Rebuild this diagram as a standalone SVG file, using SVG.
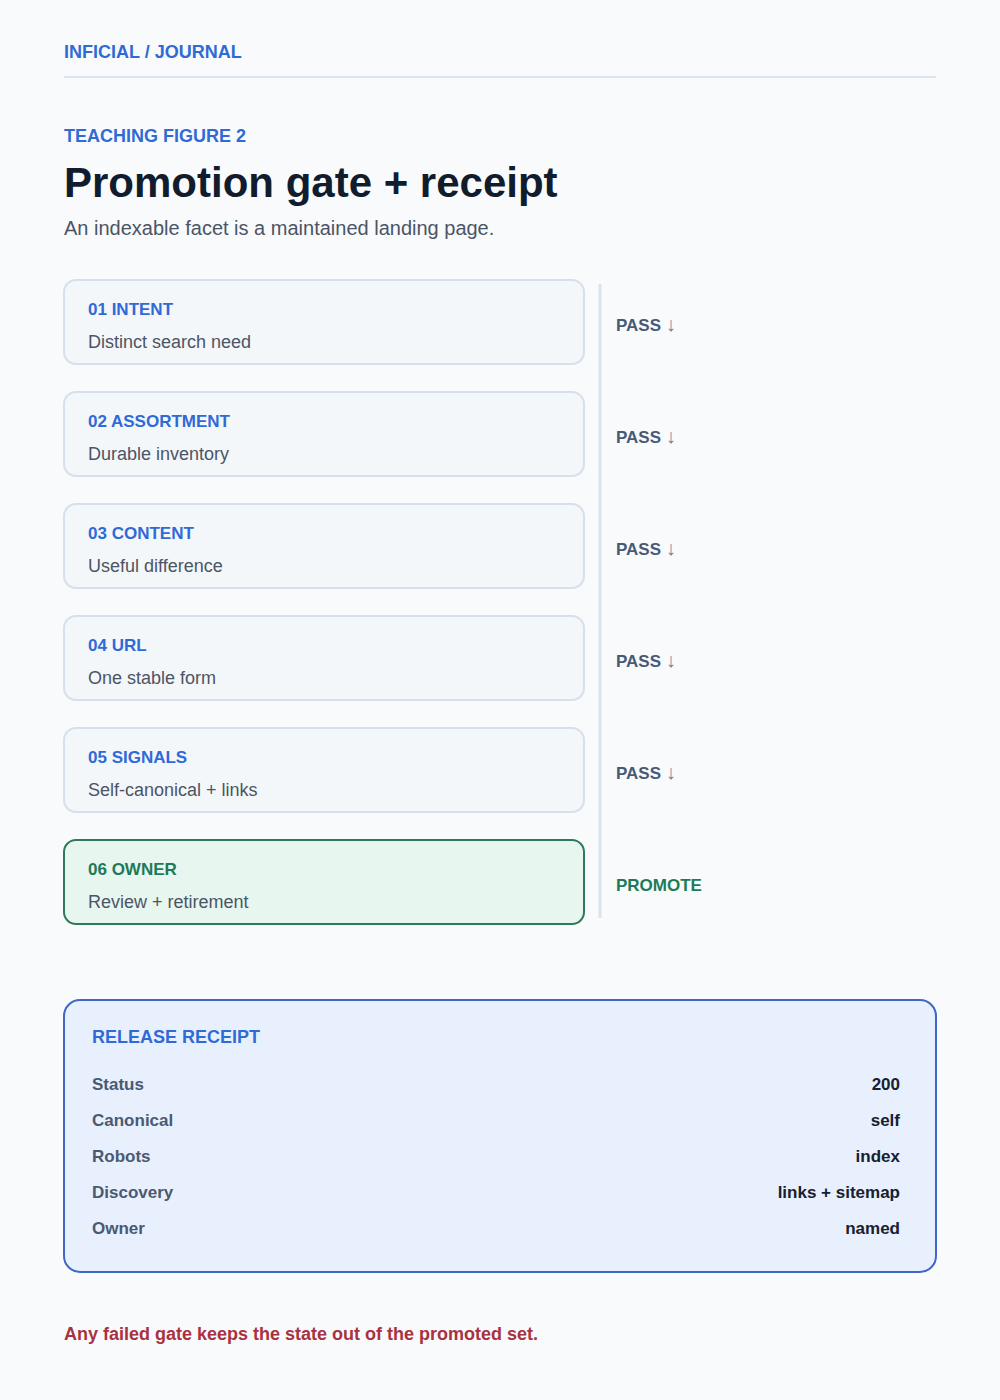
<svg xmlns="http://www.w3.org/2000/svg" width="1000" height="1400" viewBox="0 0 1000 1400">
<style>
text{font-family:"Liberation Sans",Arial,sans-serif}
.kick{font-size:18px;font-weight:700;fill:#2f6ad6}
.gate{fill:#f4f7fa;stroke:#d6e0ea;stroke-width:2}
.gate-ok{fill:#e8f6f0;stroke:#2e7a5a;stroke-width:2}
.glabel{font-size:17px;font-weight:700;fill:#2f6ad6}
.glabel-ok{font-size:17px;font-weight:700;fill:#1e7a58}
.gsub{font-size:18px;fill:#4b5565}
.pass{font-size:17px;font-weight:700;fill:#4a5a72}
.arr{font-size:20px;font-weight:400;fill:#7a8596}
.promote{font-size:17px;font-weight:700;fill:#1e7a58}
.rk{font-size:17px;font-weight:700;fill:#4a5a72}
.rv{font-size:17px;font-weight:700;fill:#17202f;text-anchor:end}
</style>
<rect x="0" y="0" width="1000" height="1400" fill="#f8fafc"/>
<g id="header">
<text x="64" y="58" class="kick">INFICIAL / JOURNAL</text>
<line x1="64" y1="77" x2="936" y2="77" stroke="#dbe4ee" stroke-width="2"/>
<text x="64" y="142" class="kick">TEACHING FIGURE 2</text>
<text x="64" y="197" font-size="42" font-weight="700" fill="#111c2d">Promotion gate + receipt</text>
<text x="64" y="235" font-size="20" fill="#4b5565">An indexable facet is a maintained landing page.</text>
</g>
<g id="connectors">
<line x1="600" y1="284" x2="600" y2="918" stroke="#dbe4ee" stroke-width="3"/>
</g>
<g id="gate1">
<rect x="64" y="280" width="520" height="84" rx="12" class="gate"/>
<text x="88" y="315" class="glabel">01 INTENT</text>
<text x="88" y="348" class="gsub">Distinct search need</text>
<text x="616" y="331" class="pass">PASS <tspan class="arr">↓</tspan></text>
</g>
<g id="gate2">
<rect x="64" y="392" width="520" height="84" rx="12" class="gate"/>
<text x="88" y="427" class="glabel">02 ASSORTMENT</text>
<text x="88" y="460" class="gsub">Durable inventory</text>
<text x="616" y="443" class="pass">PASS <tspan class="arr">↓</tspan></text>
</g>
<g id="gate3">
<rect x="64" y="504" width="520" height="84" rx="12" class="gate"/>
<text x="88" y="539" class="glabel">03 CONTENT</text>
<text x="88" y="572" class="gsub">Useful difference</text>
<text x="616" y="555" class="pass">PASS <tspan class="arr">↓</tspan></text>
</g>
<g id="gate4">
<rect x="64" y="616" width="520" height="84" rx="12" class="gate"/>
<text x="88" y="651" class="glabel">04 URL</text>
<text x="88" y="684" class="gsub">One stable form</text>
<text x="616" y="667" class="pass">PASS <tspan class="arr">↓</tspan></text>
</g>
<g id="gate5">
<rect x="64" y="728" width="520" height="84" rx="12" class="gate"/>
<text x="88" y="763" class="glabel">05 SIGNALS</text>
<text x="88" y="796" class="gsub">Self-canonical + links</text>
<text x="616" y="779" class="pass">PASS <tspan class="arr">↓</tspan></text>
</g>
<g id="gate6">
<rect x="64" y="840" width="520" height="84" rx="12" class="gate-ok"/>
<text x="88" y="875" class="glabel-ok">06 OWNER</text>
<text x="88" y="908" class="gsub">Review + retirement</text>
<text x="616" y="891" class="promote">PROMOTE</text>
</g>
<g id="receipt">
<rect x="64" y="1000" width="872" height="272" rx="16" fill="#e8f0fe" stroke="#4067c8" stroke-width="2"/>
<text x="92" y="1043" class="kick">RELEASE RECEIPT</text>
<text x="92" y="1090" class="rk">Status</text>
<text x="900" y="1090" class="rv">200</text>
<text x="92" y="1126" class="rk">Canonical</text>
<text x="900" y="1126" class="rv">self</text>
<text x="92" y="1162" class="rk">Robots</text>
<text x="900" y="1162" class="rv">index</text>
<text x="92" y="1198" class="rk">Discovery</text>
<text x="900" y="1198" class="rv">links + sitemap</text>
<text x="92" y="1234" class="rk">Owner</text>
<text x="900" y="1234" class="rv">named</text>
</g>
<g id="footer">
<text x="64" y="1340" font-size="18" font-weight="700" fill="#a8323f">Any failed gate keeps the state out of the promoted set.</text>
</g>
</svg>
